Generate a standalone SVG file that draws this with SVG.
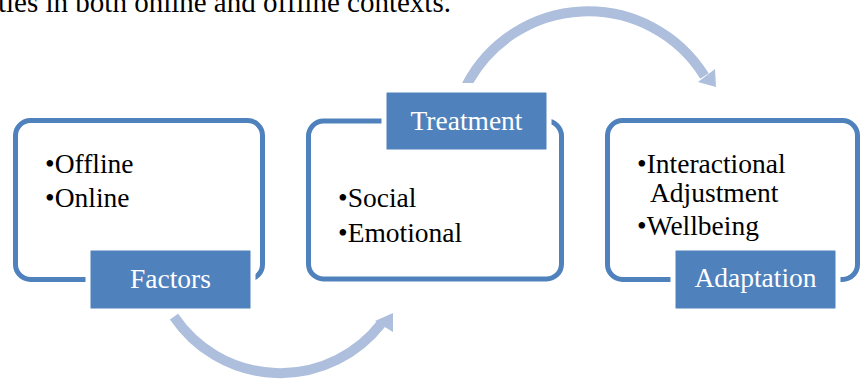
<svg xmlns="http://www.w3.org/2000/svg" width="860" height="379" viewBox="0 0 860 379">
<style>
.frame{fill:none;stroke:#4f81bd;stroke-width:5}
.label{fill:#4f81bd;stroke:#ffffff;stroke-width:5}
.lt{font-size:27.5px;fill:#ffffff;text-anchor:middle}
.bt{font-size:27.5px;fill:#000000}
.arc{fill:none;stroke:#adbfdd;stroke-width:10}
.head{fill:#adbfdd}
</style>
<defs>
<clipPath id="clipTop"><rect x="0" y="0" width="860" height="83"/></clipPath>
</defs>
<g font-family="Liberation Serif, serif">
<text x="-2" y="12" fill="#000000" font-size="29">ties in both online and offline contexts.</text>
<g id="connectors">
<path class="arc" clip-path="url(#clipTop)" d="M 465.6 87 A 137 137 0 0 1 704.5 76"/>
<polygon class="head" points="698,82 715,69 716,87"/>
<path class="arc" d="M 174 316.6 A 128 128 0 0 0 381 324"/>
<polygon class="head" points="375,321 393,313 393,332"/>
</g>
<g id="factors">
<rect class="frame" x="15.5" y="120.5" width="247" height="159" rx="15"/>
<text class="bt" x="45" y="173">•Offline</text>
<text class="bt" x="45" y="207">•Online</text>
<rect class="label" x="88" y="248" width="165" height="63" rx="3"/>
<text class="lt" x="170.5" y="288">Factors</text>
</g>
<g id="treatment">
<rect class="frame" x="308.5" y="121" width="253" height="158" rx="15"/>
<text class="bt" x="338" y="207">•Social</text>
<text class="bt" x="338" y="242">•Emotional</text>
<rect class="label" x="384" y="90" width="165" height="62" rx="3"/>
<text class="lt" x="466.5" y="130">Treatment</text>
</g>
<g id="adaptation">
<rect class="frame" x="607.5" y="120.5" width="250" height="159" rx="15"/>
<text class="bt" x="637" y="173">•Interactional</text>
<text class="bt" x="650" y="202">Adjustment</text>
<text class="bt" x="637" y="235">•Wellbeing</text>
<rect class="label" x="673" y="248" width="165" height="63" rx="3"/>
<text class="lt" x="755.5" y="287">Adaptation</text>
</g>
</g>
</svg>
